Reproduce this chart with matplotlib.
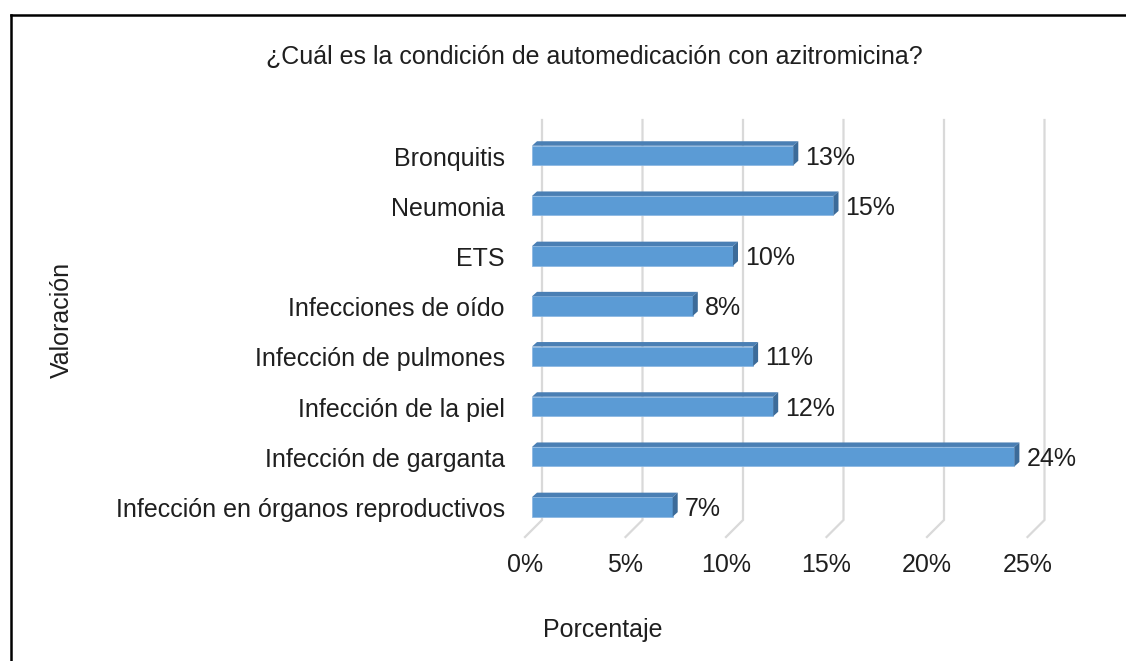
import matplotlib.pyplot as plt
from matplotlib.patches import Polygon
from matplotlib.lines import Line2D

plt.rcParams['font.family'] = ['Liberation Sans', 'DejaVu Sans']

# Data
categories = ['Bronquitis', 'Neumonia', 'ETS', 'Infecciones de oído',
              'Infección de pulmones', 'Infección de la piel',
              'Infección de garganta', 'Infección en órganos reproductivos']
values = [13, 15, 10, 8, 11, 12, 24, 7]
ticks = [0, 5, 10, 15, 20, 25]
tick_labels = ['0%', '5%', '10%', '15%', '20%', '25%']

W, H = 1126, 661
FS = 18
TXT = '#1F1F1F'
fig = plt.figure(figsize=(W / 100, H / 100), dpi=100, facecolor='white')
ax = fig.add_axes([0, 0, 1, 1])
ax.axis('off')

# pixel -> data mapping: 0% at px 532, 20.1 px per %, category 0 at px 155.5, 50.2 px per category
PX_X = 20.1
PX_Y = 50.2
ax.set_xlim(-532 / PX_X, (W - 532) / PX_X)
ax.set_ylim((H - 155.5) / PX_Y, -155.5 / PX_Y)

def px(dx, dy):
    return dx / PX_X, dy / PX_Y

# back wall gridlines with floor edge
gx, _ = px(10, 0)
_, gtop = px(0, 120 - 155.5)
_, gbot = px(0, 520 - 155.5)
fx, fy = px(-17, 17)
for t, lab in zip(ticks, tick_labels):
    ax.plot([t + gx, t + gx, t + gx + fx], [gtop, gbot, gbot + fy],
            color='#D9D9D9', lw=1.6, zorder=1, solid_joinstyle='miter')
    ax.text(t + gx + fx, gbot + fy + 28 / PX_Y, lab,
            ha='center', va='center', fontsize=FS, color=TXT)

# 3D-looking bars
front = '#5B9BD5'
top_c = '#4A7FB4'
side_c = '#3C6B99'
h = 19.5 / PX_Y
ddx, ddy = px(5, -4.5)
ys = list(range(len(categories)))
ax.barh(ys, values, height=h, color=front, edgecolor='#8DB8E2', linewidth=0.6, zorder=3)
for y, v in zip(ys, values):
    y0 = y - h / 2
    y1 = y + h / 2
    ax.add_patch(Polygon([(0, y0), (ddx, y0 + ddy), (v + ddx, y0 + ddy), (v, y0)],
                         closed=True, facecolor=top_c, edgecolor='none', zorder=3))
    ax.add_patch(Polygon([(v, y0), (v + ddx, y0 + ddy), (v + ddx, y1 + ddy), (v, y1)],
                         closed=True, facecolor=side_c, edgecolor='none', zorder=3))
    ax.text(v + px(12, 0)[0], y + 2 / PX_Y, f'{v}%', ha='left', va='center',
            fontsize=FS, color=TXT, zorder=4)
    ax.text(px(-27, 0)[0], y + 3 / PX_Y, categories[y], ha='right', va='center',
            fontsize=FS, color=TXT)

# titles
fig.text(594 / W, 1 - 57 / H, '¿Cuál es la condición de automedicación con azitromicina?',
         ha='center', va='center', fontsize=FS, color=TXT)
fig.text(603 / W, 1 - 630 / H, 'Porcentaje', ha='center', va='center',
         fontsize=FS, color=TXT)
fig.text(62 / W, 1 - 320 / H, 'Valoración', ha='center', va='center',
         rotation=90, fontsize=FS, color=TXT)

# outer border (top and left only visible)
fig.add_artist(Line2D([10.5 / W, 10.5 / W], [0, 1 - 14.5 / H], color='black', lw=1.8))
fig.add_artist(Line2D([10.5 / W, 1], [1 - 14.5 / H, 1 - 14.5 / H], color='black', lw=1.8))

fig.savefig('out.png', dpi=100, facecolor='white')
